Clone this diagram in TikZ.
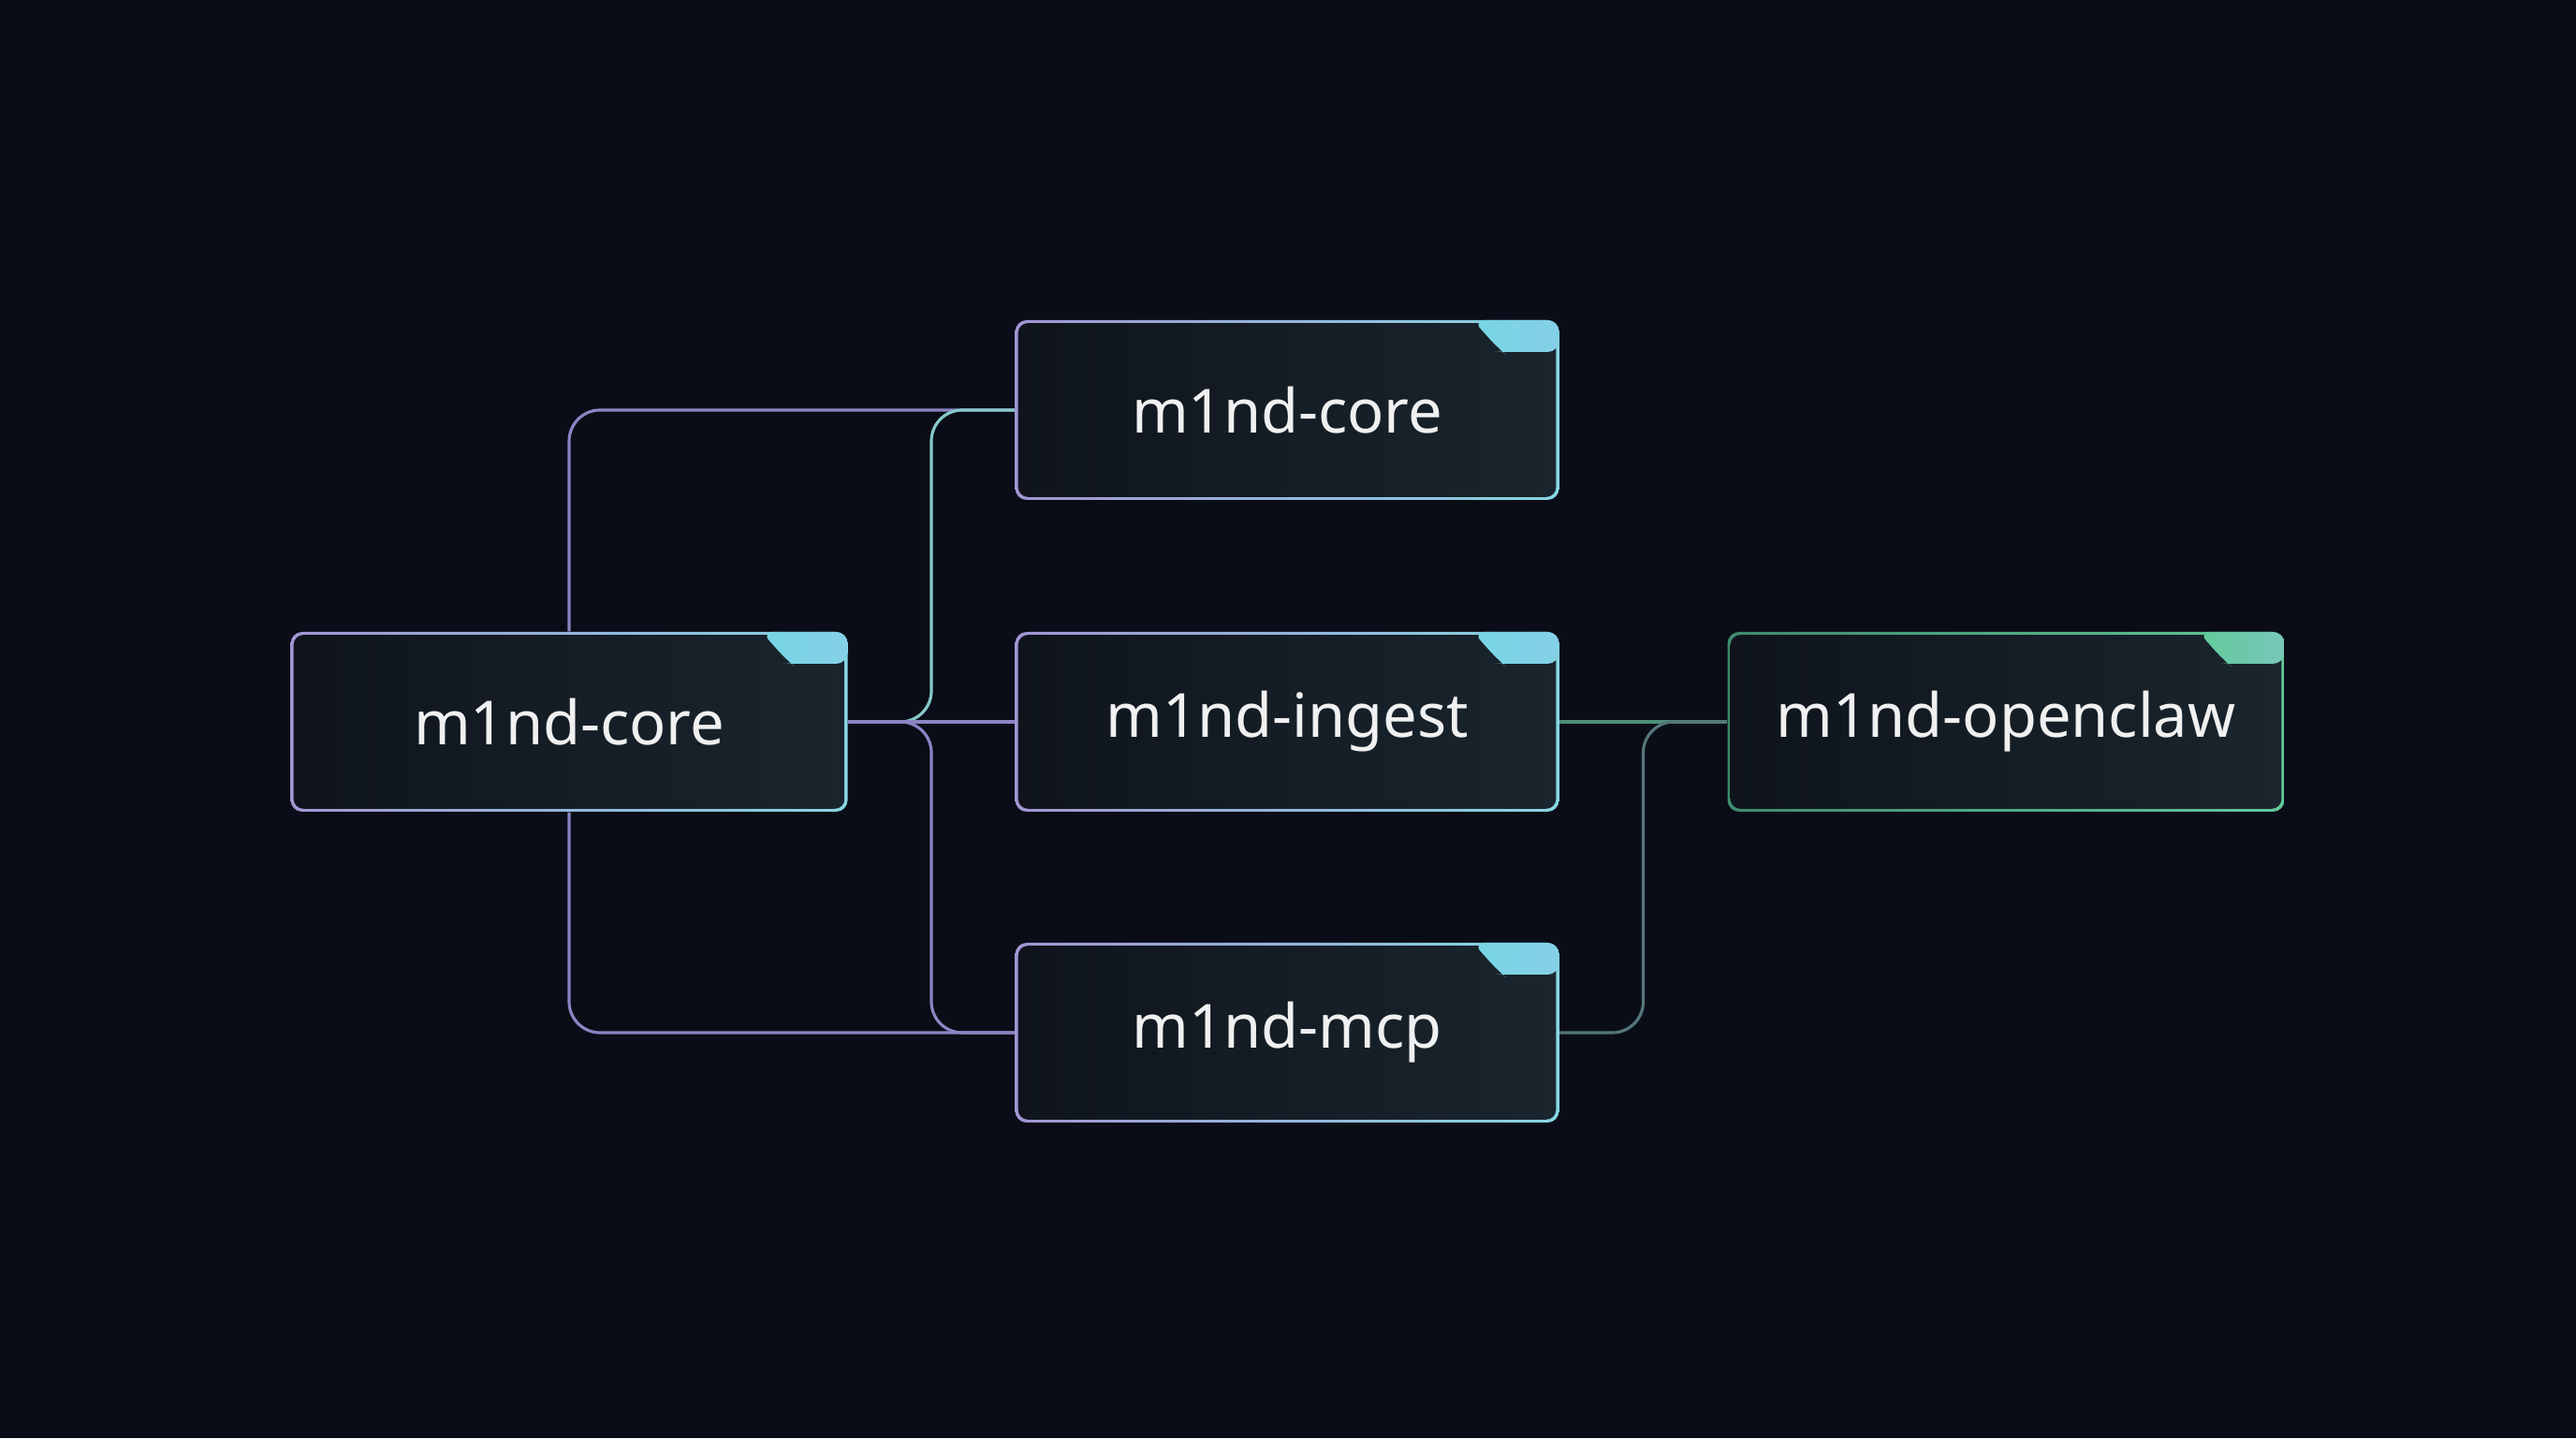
\documentclass[tikz,border=0pt]{standalone}
\usepackage{fontspec}
\setmainfont{Noto Sans}
\usetikzlibrary{calc}
\definecolor{bg}{HTML}{0A0D17}
\definecolor{boxin}{HTML}{0F141C}
\definecolor{boxhi}{HTML}{1A252E}
\definecolor{lav}{HTML}{A296D4}
\definecolor{cyn}{HTML}{86D6E2}
\definecolor{tabc}{HTML}{78D6E4}
\definecolor{tabr}{HTML}{98C6EC}
\definecolor{grn}{HTML}{62C99A}
\definecolor{grnd}{HTML}{3E8C6C}
\definecolor{lnlav}{HTML}{8C84C4}
\definecolor{lnteal}{HTML}{86C8CA}
\definecolor{lngrn}{HTML}{4C8F7A}
\definecolor{lngry}{HTML}{557679}

\begin{document}
\begin{tikzpicture}[font=\fontsize{18.5}{22}\selectfont,
 box/.style={rounded corners=3.5pt,minimum width=5.85cm,minimum height=1.92cm,inner sep=0pt,
  text=white!94!black,left color=lav,right color=cyn,
  path picture={
   \shade[rounded corners=3pt,left color=boxin,right color=boxhi]
    ([shift={(.9pt,.9pt)}]path picture bounding box.south west) rectangle
    ([shift={(-.9pt,-.9pt)}]path picture bounding box.north east);
   \shade[left color=#1,right color=#1!60!tabr] ([xshift=-.92cm]path picture bounding box.north east)
    -- ([shift={(-.66cm,-.29cm)}]path picture bounding box.north east)
    to[out=-40,in=180] ([shift={(-.56cm,-.34cm)}]path picture bounding box.north east)
    -- ([yshift=-.34cm]path picture bounding box.north east)
    -- (path picture bounding box.north east) -- cycle;}},
 box/.default=tabc,
 ln/.style={line width=.9pt,rounded corners=.33cm}]
\fill[bg] (0,0) rectangle (27.52,15.36);
\useasboundingbox (0,0) rectangle (27.52,15.36);
\node[box,minimum width=5.95cm] (cl) at (6.08,7.65) {m1nd-core};
\node[box,minimum width=5.81cm] (ct) at (13.75,10.98) {m1nd-core};
\node[box,minimum width=5.81cm] (ig) at (13.75,7.65) {m1nd-ingest};
\node[box,minimum width=5.81cm] (mc) at (13.75,4.33) {m1nd-mcp};
\node[box=grn,minimum width=5.95cm,left color=grnd,right color=grn] (oc) at (21.43,7.65) {m1nd-openclaw};
\coordinate (jl) at ($(cl.east)!.5!(ig.west)$);
\coordinate (jr) at ($(ig.east)!.5!(oc.west)$);
\draw[ln,lnlav] (cl.north) |- (ct.west);
\draw[ln,lnlav] (cl.south) |- (mc.west);
\draw[ln,lnlav] (cl.east) -| (jl |- mc.west) -- (mc.west);
\draw[ln,lnteal] (cl.east) -| (jl |- ct.west) -- (ct.west);
\draw[ln,lnlav] (cl.east) -- (ig.west);
\draw[ln,lngrn] (ig.east) -- (oc.west);
\draw[ln,lngry] (mc.east) -| (jr |- oc.west) -- (oc.west);
\end{tikzpicture}
\end{document}
